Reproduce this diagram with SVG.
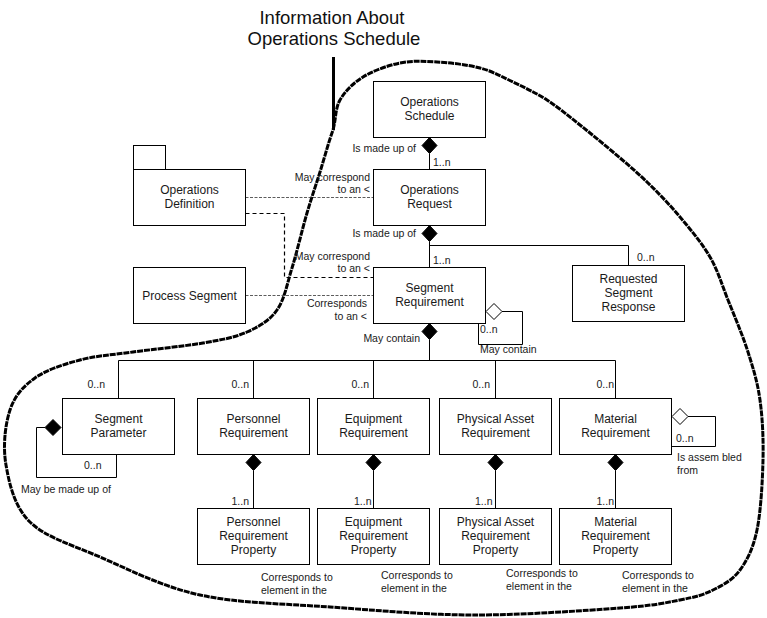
<svg xmlns="http://www.w3.org/2000/svg" width="767" height="618" viewBox="0 0 767 618">
<style>
.box{fill:#fff;stroke:#000;stroke-width:1}
.t{font-family:"Liberation Sans",Arial,sans-serif;font-size:12px;fill:#1a1a1a;text-anchor:middle}
.l{font-family:"Liberation Sans",Arial,sans-serif;font-size:10.5px;fill:#1a1a1a}
.e{text-anchor:end}
.ln{fill:none;stroke:#000;stroke-width:1}
.fd{fill:#000;stroke:#000;stroke-width:1}
.hd{fill:#fff;stroke:#000;stroke-width:1}
.title{font-family:"Liberation Sans",Arial,sans-serif;font-size:18.5px;fill:#111;text-anchor:middle}
</style>
<rect width="767" height="618" fill="#fff"/>

<g id="title">
<text class="title" x="332" y="24">Information About</text>
<text class="title" x="334" y="45">Operations Schedule</text>
<line x1="333.5" y1="57" x2="333.5" y2="130" stroke="#000" stroke-width="3"/>
</g>

<g id="boundary">
<path fill="none" stroke="#000" stroke-width="3" stroke-dasharray="6 0.9" d="M333,130 C336.3,118 335,108.8 340,100 C345,91.2 353,83.2 363,77 C373,70.8 387.7,65.5 400,63 C412.3,60.5 423.7,61.2 437,62 C450.3,62.8 467.3,64.7 480,68 C492.7,71.3 501.8,76.7 513,82 C524.2,87.3 535.8,92.8 547,100 C558.2,107.2 569,116.3 580,125 C591,133.7 601.8,142.5 613,152 C624.2,161.5 635.8,171.2 647,182 C658.2,192.8 669.5,204.5 680,217 C690.5,229.5 702,243.2 710,257 C718,270.8 721.7,284.2 728,300 C734.3,315.8 742.7,335.3 748,352 C753.3,368.7 757.5,382 760,400 C762.5,418 763.5,438.3 763,460 C762.5,481.7 760.8,511.7 757,530 C753.2,548.3 747.3,560 740,570 C732.7,580 723,585 713,590 C703,595 695.5,597 680,600 C664.5,603 654.5,605.5 620,608 C585.5,610.5 521.3,615.2 473,615 C424.7,614.8 375.5,610.3 330,607 C284.5,603.7 238.3,603.3 200,595 C161.7,586.7 128.3,569.2 100,557 C71.7,544.8 45.7,537.3 30,522 C14.3,506.7 9.3,483.7 6,465 C2.7,446.3 5.2,424.5 10,410 C14.8,395.5 23.3,386.3 35,378 C46.7,369.7 63.7,364.3 80,360 C96.3,355.7 112.5,354.8 133,352 C153.5,349.2 184,346.3 203,343 C222,339.7 234.7,337.5 247,332 C259.3,326.5 269.5,320.7 277,310 C284.5,299.3 287,284.2 292,268 C297,251.8 302.3,229 307,213 C311.7,197 315.7,185.8 320,172 C324.3,158.2 328.7,141.8 333,130 Z"/>
</g>

<g id="connectors">
<line class="ln" x1="429.5" y1="153.5" x2="429.5" y2="169.5"/>
<polygon class="fd" points="429.5,137.5 437,145.5 429.5,153.5 422,145.5"/>
<line class="ln" x1="429.5" y1="241.5" x2="429.5" y2="267.5"/>
<polyline class="ln" points="429.5,245.5 628.5,245.5 628.5,265.5"/>
<polygon class="fd" points="429.5,225.5 437,233.5 429.5,241.5 422,233.5"/>
<line class="ln" x1="429.5" y1="339.5" x2="429.5" y2="360.5"/>
<polygon class="fd" points="429.5,323.5 437,331.5 429.5,339.5 422,331.5"/>
<polyline class="ln" points="118.5,398.5 118.5,360.5 615.5,360.5 615.5,398.5"/>
<line class="ln" x1="253.5" y1="360.5" x2="253.5" y2="398.5"/>
<line class="ln" x1="373.5" y1="360.5" x2="373.5" y2="398.5"/>
<line class="ln" x1="495.5" y1="360.5" x2="495.5" y2="398.5"/>
<polyline class="ln" points="502,311.5 522.5,311.5 522.5,344.5 478.5,344.5 478.5,323.5"/>
<polygon class="hd" points="486,311.5 494,303.5 502,311.5 494,319.5"/>
<polyline class="ln" points="45,427.5 36.5,427.5 36.5,477.5 116.5,477.5 116.5,454.5"/>
<polygon class="fd" points="45,427.5 53,419.5 61,427.5 53,435.5"/>
<polyline class="ln" points="688,416.5 715.5,416.5 715.5,446.5 671.5,446.5"/>
<polygon class="hd" points="672,416.5 680,408.5 688,416.5 680,424.5"/>
<line class="ln" x1="253.5" y1="470.5" x2="253.5" y2="508.5"/>
<polygon class="fd" points="253.5,454.5 261,462.5 253.5,470.5 246,462.5"/>
<line class="ln" x1="373.5" y1="470.5" x2="373.5" y2="508.5"/>
<polygon class="fd" points="373.5,454.5 381,462.5 373.5,470.5 366,462.5"/>
<line class="ln" x1="495.5" y1="470.5" x2="495.5" y2="508.5"/>
<polygon class="fd" points="495.5,454.5 503,462.5 495.5,470.5 488,462.5"/>
<line class="ln" x1="615.5" y1="470.5" x2="615.5" y2="508.5"/>
<polygon class="fd" points="615.5,454.5 623,462.5 615.5,470.5 608,462.5"/>
<line x1="245.5" y1="197.5" x2="373" y2="197.5" stroke="#333" stroke-width="0.8" stroke-dasharray="3 1.5"/>
<polyline points="245.5,213.5 284.5,213.5 284.5,277.5 373,277.5" fill="none" stroke="#000" stroke-width="1.2" stroke-dasharray="4 3"/>
<line x1="245.5" y1="295.5" x2="373" y2="295.5" stroke="#333" stroke-width="0.8" stroke-dasharray="3 1.5"/>
</g>

<g id="labels">
<text class="l e" x="416" y="151.5">Is made up of</text>
<text class="l" x="433" y="166">1..n</text>
<text class="l e" x="370" y="180.5">May correspond</text>
<text class="l e" x="370" y="193">to an &lt;</text>
<text class="l e" x="416" y="237">Is made up of</text>
<text class="l" x="433" y="264">1..n</text>
<text class="l" x="637" y="261">0..n</text>
<text class="l e" x="370" y="260">May correspond</text>
<text class="l e" x="370" y="272">to an &lt;</text>
<text class="l e" x="367" y="306.5">Corresponds</text>
<text class="l e" x="367" y="320">to an &lt;</text>
<text class="l" x="480" y="333">0..n</text>
<text class="l" x="480" y="353">May contain</text>
<text class="l e" x="420" y="341.5">May contain</text>
<text class="l e" x="105" y="388">0..n</text>
<text class="l e" x="249" y="388">0..n</text>
<text class="l e" x="369" y="388">0..n</text>
<text class="l e" x="490" y="388">0..n</text>
<text class="l e" x="614" y="388">0..n</text>
<text class="l e" x="249" y="505">1..n</text>
<text class="l e" x="371.5" y="505">1..n</text>
<text class="l e" x="492.5" y="505">1..n</text>
<text class="l e" x="614" y="505">1..n</text>
<text class="l" x="84" y="469">0..n</text>
<text class="l" x="21" y="493">May be made up of</text>
<text class="l" x="676" y="442">0..n</text>
<text class="l" x="677" y="461">Is assem bled</text>
<text class="l" x="677" y="474">from</text>
<text class="l" x="261" y="581">Corresponds to</text>
<text class="l" x="261" y="594">element in the</text>
<text class="l" x="381" y="579">Corresponds to</text>
<text class="l" x="381" y="592">element in the</text>
<text class="l" x="506" y="577">Corresponds to</text>
<text class="l" x="506" y="590">element in the</text>
<text class="l" x="622" y="579">Corresponds to</text>
<text class="l" x="622" y="592">element in the</text>
</g>

<g id="operations-schedule">
<rect class="box" x="373.5" y="81.5" width="112" height="56"/>
<text class="t" x="429.5" y="105.5">Operations</text>
<text class="t" x="429.5" y="119.5">Schedule</text>
</g>
<g id="operations-request">
<rect class="box" x="373.5" y="169.5" width="112" height="56"/>
<text class="t" x="429.5" y="193.5">Operations</text>
<text class="t" x="429.5" y="207.5">Request</text>
</g>
<g id="segment-requirement">
<rect class="box" x="373.5" y="267.5" width="112" height="56"/>
<text class="t" x="429.5" y="291.5">Segment</text>
<text class="t" x="429.5" y="305.5">Requirement</text>
</g>
<g id="requested-segment-response">
<rect class="box" x="572.5" y="265.5" width="112" height="56"/>
<text class="t" x="628.5" y="282.5">Requested</text>
<text class="t" x="628.5" y="296.5">Segment</text>
<text class="t" x="628.5" y="310.5">Response</text>
</g>
<g id="operations-definition">
<rect class="box" x="133.5" y="145.5" width="32" height="24"/>
<rect class="box" x="133.5" y="169.5" width="112" height="56"/>
<text class="t" x="189.5" y="193.5">Operations</text>
<text class="t" x="189.5" y="207.5">Definition</text>
</g>
<g id="process-segment">
<rect class="box" x="133.5" y="267.5" width="112" height="56"/>
<text class="t" x="189.5" y="299.5">Process Segment</text>
</g>
<g id="segment-parameter">
<rect class="box" x="62.5" y="398.5" width="112" height="56"/>
<text class="t" x="118.5" y="422.5">Segment</text>
<text class="t" x="118.5" y="436.5">Parameter</text>
</g>
<g id="personnel-requirement">
<rect class="box" x="197.5" y="398.5" width="112" height="56"/>
<text class="t" x="253.5" y="422.5">Personnel</text>
<text class="t" x="253.5" y="436.5">Requirement</text>
</g>
<g id="equipment-requirement">
<rect class="box" x="317.5" y="398.5" width="112" height="56"/>
<text class="t" x="373.5" y="422.5">Equipment</text>
<text class="t" x="373.5" y="436.5">Requirement</text>
</g>
<g id="physical-asset-requirement">
<rect class="box" x="439.5" y="398.5" width="112" height="56"/>
<text class="t" x="495.5" y="422.5">Physical Asset</text>
<text class="t" x="495.5" y="436.5">Requirement</text>
</g>
<g id="material-requirement">
<rect class="box" x="559.5" y="398.5" width="112" height="56"/>
<text class="t" x="615.5" y="422.5">Material</text>
<text class="t" x="615.5" y="436.5">Requirement</text>
</g>
<g id="personnel-requirement-property">
<rect class="box" x="197.5" y="508.5" width="112" height="56"/>
<text class="t" x="253.5" y="525.5">Personnel</text>
<text class="t" x="253.5" y="539.5">Requirement</text>
<text class="t" x="253.5" y="553.5">Property</text>
</g>
<g id="equipment-requirement-property">
<rect class="box" x="317.5" y="508.5" width="112" height="56"/>
<text class="t" x="373.5" y="525.5">Equipment</text>
<text class="t" x="373.5" y="539.5">Requirement</text>
<text class="t" x="373.5" y="553.5">Property</text>
</g>
<g id="physical-asset-requirement-property">
<rect class="box" x="439.5" y="508.5" width="112" height="56"/>
<text class="t" x="495.5" y="525.5">Physical Asset</text>
<text class="t" x="495.5" y="539.5">Requirement</text>
<text class="t" x="495.5" y="553.5">Property</text>
</g>
<g id="material-requirement-property">
<rect class="box" x="559.5" y="508.5" width="112" height="56"/>
<text class="t" x="615.5" y="525.5">Material</text>
<text class="t" x="615.5" y="539.5">Requirement</text>
<text class="t" x="615.5" y="553.5">Property</text>
</g>
</svg>
